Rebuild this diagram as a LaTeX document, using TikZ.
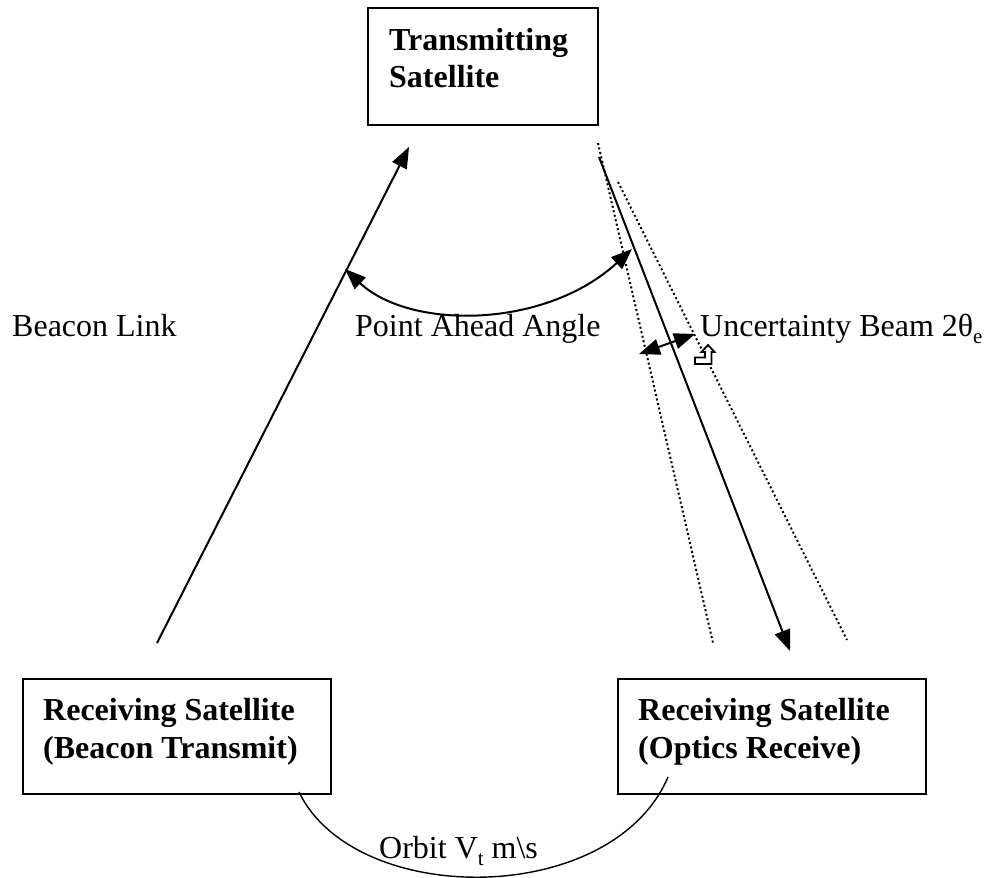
\documentclass[tikz,border=0pt]{standalone}
\usepackage{fontspec}
\setmainfont{Liberation Serif}
\usetikzlibrary{arrows.meta}
\tikzset{
  satbox/.style={draw, line width=2pt, rectangle, inner sep=0pt},
  lbl/.style={anchor=base west, inner sep=0pt, font=\fontsize{32}{37}\selectfont},
  blbl/.style={lbl, font=\fontsize{32}{37}\selectfont\bfseries},
  link/.style={line width=2pt},
  beam/.style={line width=2pt, dash pattern=on 2pt off 2.6pt},
  tip/.style={-{Triangle[length=21pt,width=16pt]}},
  dtip/.style={{Triangle[length=21pt,width=16pt]}-{Triangle[length=21pt,width=16pt]}}
}
\newcommand{\sbs}[1]{\raisebox{-0.22em}{\fontsize{21}{21}\selectfont #1}}
\begin{document}
\begin{tikzpicture}[x=1pt,y=-1pt]
\useasboundingbox (0,0) rectangle (988,878);
% boxes
\node[satbox, minimum width=230pt, minimum height=117pt] (tx) at (483,66.5) {};
\node[satbox, minimum width=308pt, minimum height=115pt] (rb) at (177,736.5) {};
\node[satbox, minimum width=308pt, minimum height=115pt] (ro) at (772,736.5) {};
% box texts
\node[blbl] (tx1) at (389,50) {Transmitting};
\node[blbl] (tx2) at (389,87) {Satellite};
\node[blbl] (rb1) at (43,720) {Receiving Satellite};
\node[blbl] (rb2) at (43,758) {(Beacon Transmit)};
\node[blbl] (ro1) at (638,720) {Receiving Satellite};
\node[blbl] (ro2) at (638,758) {(Optics Receive)};
% labels
\node[lbl] (bl) at (12,336) {Beacon Link};
\node[lbl] (pa) at (355,336) {Point Ahead Angle};
\node[lbl] (ub) at (700,336) {Uncertainty Beam 2θ\sbs{e}};
% coordinates
\coordinate (bs) at (157,643);
\coordinate (be) at (409,147);
\coordinate (os) at (599,157);
\coordinate (oe) at (790,651);
\coordinate (d1s) at (598,143);
\coordinate (d1e) at (713,643);
\coordinate (d2s) at (618,182);
\coordinate (d2e) at (847,640);
\coordinate (pas) at (345,269);
\coordinate (pae) at (632,249);
\coordinate (us) at (639,354);
\coordinate (ue) at (695,334);
\coordinate (orb1) at (299,792);
\coordinate (orb2) at (668,777);
% beacon link
\draw[link, tip] (bs) -- (be);
% optics link
\draw[link, tip] (os) -- (oe);
% uncertainty beam edges
\draw[beam] (d1s) -- (d1e);
\draw[beam] (d2s) -- (d2e);
% point ahead angle
\draw[link, dtip] (pas) .. controls (410,330) and (545,329) .. (pae);
% uncertainty arrow
\draw[link, dtip] (us) -- (ue);
% small bent-up arrow icon
\draw[line width=1.8pt, fill=white, line join=miter]
  (708,345) -- (714.5,352) -- (711.5,352) -- (711.5,364) -- (695,364) -- (695,357.5)
  -- (705,357.5) -- (705,352) -- (701.5,352) -- cycle;
% orbit
\draw[line width=1.4pt] (orb1) .. controls (355,908) and (612,908) .. (orb2);
\node[lbl] (orb) at (379,858) {Orbit V\sbs{t} m\textbackslash s};
\end{tikzpicture}
\end{document}
